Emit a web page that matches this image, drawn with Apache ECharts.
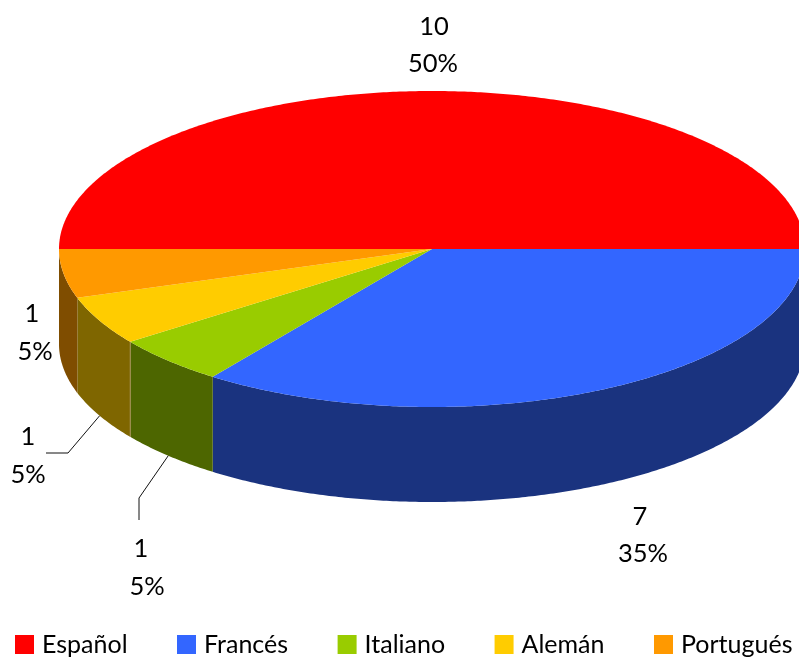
<!DOCTYPE html>
<html>
<head>
<meta charset="utf-8">
<script src="https://cdn.jsdelivr.net/npm/echarts@6/dist/echarts.min.js"></script>
<style>
  html, body { margin: 0; padding: 0; background: #fff; }
  #main { width: 799px; height: 657px; }
</style>
</head>
<body>
<div id="main"></div>
<script>
// datos
var categories = ['Español', 'Francés', 'Italiano', 'Alemán', 'Portugués'];
var values = [10, 7, 1, 1, 1];

// colores
var topColors = ['#ff0000', '#3366ff', '#99cc00', '#ffcc00', '#ff9900'];
var wallColors = ['#7f0000', '#1a337f', '#4d6600', '#7f6600', '#7f4d00'];
var wallEdgeColor = '#a8925a';

// geometria del pastel (elipse + altura)
var cx = 432, cy = 249, rx = 373, ry = 158, depth = 95;
var startAngle = 180;
var labelFont = '25.5px Lato';

// posicion de las etiquetas: [x valor, y valor, x %, y %]
var labelPos = [
  [434, 27, 433, 64],
  [640, 517, 643, 554],
  [141, 549, 147, 587],
  [28, 437, 28, 475],
  [32, 314, 35, 352]
];
// lineas guia: puntos despues del arranque en la pared
var leaders = [null, null, [[139, 498], [139, 520]], [[68, 453], [46, 453]], null];

var total = values.reduce(function (a, b) { return a + b; }, 0);

function pt(deg, dy) {
  var r = deg * Math.PI / 180;
  return [cx + rx * Math.cos(r), cy + ry * Math.sin(r) + (dy || 0)];
}

function arc(a0, a1, dy) {
  var pts = [];
  var n = Math.max(2, Math.ceil(Math.abs(a1 - a0) * 2));
  for (var k = 0; k <= n; k++) {
    pts.push(pt(a0 + (a1 - a0) * k / n, dy));
  }
  return pts;
}

function sliceAngles(idx) {
  var before = 0;
  for (var i = 0; i < idx; i++) before += values[i];
  return [startAngle + before / total * 360, startAngle + (before + values[idx]) / total * 360];
}

function makeItem(idx) {
  return function (params, api) {
    var val = api.value(0);
    var ang = sliceAngles(idx);
    var kids = [];

    // parte de la pared que se ve (medio inferior de la elipse)
    var w0 = ang[0], w1 = ang[1];
    if (w0 >= 360) { w0 -= 360; w1 -= 360; }
    if (w0 < 180) {
      w1 = Math.min(w1, 180);
      var wall = arc(w0, w1, 0).concat(arc(w1, w0, depth));
      kids.push({ type: 'polygon', shape: { points: wall }, style: { fill: wallColors[idx] } });
      if (categories[idx] === 'Alemán') {
        [w0, w1].forEach(function (a) {
          kids.push({
            type: 'polyline',
            shape: { points: [pt(a, 0), pt(a, depth)] },
            style: { stroke: wallEdgeColor, lineWidth: 1, fill: null }
          });
        });
      }
    }

    // cara superior
    kids.push({
      type: 'polygon',
      shape: { points: [[cx, cy]].concat(arc(ang[0], ang[1], 0)) },
      style: { fill: topColors[idx] }
    });

    // linea guia desde el centro del sector
    if (leaders[idx]) {
      kids.push({
        type: 'polyline',
        shape: { points: [pt((ang[0] + ang[1]) / 2, depth)].concat(leaders[idx]) },
        style: { stroke: '#111111', lineWidth: 1, fill: null }
      });
    }

    // etiquetas
    var p = labelPos[idx];
    kids.push({
      type: 'text',
      style: { text: String(val), x: p[0], y: p[1], font: labelFont, fill: '#000000', align: 'center', verticalAlign: 'middle' }
    });
    kids.push({
      type: 'text',
      style: { text: Math.round(val / total * 100) + '%', x: p[2], y: p[3], font: labelFont, fill: '#000000', align: 'center', verticalAlign: 'middle' }
    });

    return { type: 'group', children: kids };
  };
}

var series = categories.map(function (name, i) {
  return {
    name: name,
    type: 'custom',
    coordinateSystem: 'none',
    silent: true,
    animation: false,
    itemStyle: { color: topColors[i] },
    data: [[values[i]]],
    renderItem: makeItem(i)
  };
});

var myChart = echarts.init(document.getElementById('main'), null, { renderer: 'canvas' });
myChart.setOption({
  animation: false,
  backgroundColor: '#ffffff',
  legend: {
    data: categories,
    left: 15,
    top: 632,
    padding: 0,
    icon: 'rect',
    itemWidth: 19,
    itemHeight: 19,
    itemGap: 49.5,
    selectedMode: false,
    textStyle: { fontFamily: 'Lato', fontSize: 25, color: '#000000', padding: [0, 0, 3, 3] }
  },
  series: series
});
</script>
</body>
</html>
